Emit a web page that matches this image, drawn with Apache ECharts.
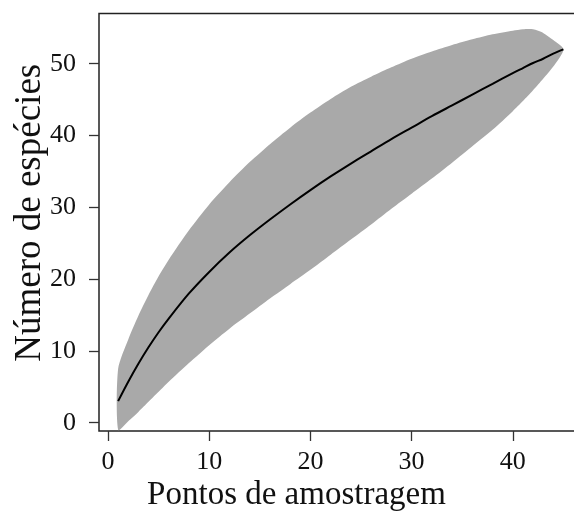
<!DOCTYPE html>
<html>
<head>
<meta charset="utf-8">
<script src="https://cdn.jsdelivr.net/npm/echarts@6/dist/echarts.min.js"></script>
<style>
  html, body { margin: 0; padding: 0; background: #fff; }
  #chart { width: 574px; height: 517px; }
</style>
</head>
<body>
<div id="chart"></div>
<script>
// pontos de amostragem
const pontos = [1, 2, 3, 4, 5, 6, 8, 10, 12, 14, 16, 18, 20, 22, 24, 26, 28, 30, 32, 34, 36, 38, 40, 41, 42, 43, 44, 45];
// curva media de especies
const mediaEspecies = [3.0, 5.7, 8.2, 10.5, 12.6, 14.5, 18.0, 21.0, 23.7, 26.1, 28.3, 30.4, 32.4, 34.3, 36.1, 37.8, 39.5, 41.1, 42.7, 44.2, 45.7, 47.2, 48.7, 49.4, 50.1, 50.7, 51.4, 52.0];
// intervalo de confianca
const limiteSuperior = [7.5, 11.6, 14.9, 17.8, 20.4, 22.7, 26.8, 30.4, 33.5, 36.3, 38.8, 41.1, 43.2, 45.1, 46.8, 48.2, 49.5, 50.7, 51.7, 52.6, 53.4, 54.1, 54.6, 54.8, 54.8, 54.3, 53.3, 52.0];
const limiteInferior = [-1.0, 0.2, 1.5, 2.9, 4.3, 5.7, 8.3, 10.8, 13.1, 15.2, 17.3, 19.3, 21.3, 23.4, 25.5, 27.6, 29.8, 31.9, 34.0, 36.2, 38.5, 40.8, 43.4, 44.8, 46.3, 47.9, 49.6, 52.0];
const ticksX = [0, 10, 20, 30, 40];
const ticksY = [0, 10, 20, 30, 40, 50];

const chart = echarts.init(document.getElementById('chart'));
const fonte = '"Liberation Serif", "DejaVu Serif", serif';

// faixa cinza: um poligono so, desenhado no primeiro item
function desenhaFaixa(params, api) {
  if (params.dataIndex !== 0) return;
  const sup = pontos.map((x, i) => api.coord([x, limiteSuperior[i]]));
  const inf = pontos.map((x, i) => api.coord([x, limiteInferior[i]])).reverse().slice(1);
  return {
    type: 'polygon',
    shape: { points: sup.concat(inf), smooth: 0.25 },
    style: { fill: '#a9a9a9', stroke: null }
  };
}

const option = {
  animation: false,
  grid: {
    left: 99,
    top: 13.5,
    right: -6,
    bottom: 86,
    outerBoundsMode: 'none',
    show: true,
    borderColor: '#222',
    borderWidth: 1.5,
    backgroundColor: 'transparent'
  },
  xAxis: {
    type: 'value',
    min: -0.89,
    max: 46.64,
    name: 'Pontos de amostragem',
    nameLocation: 'middle',
    nameGap: 48,
    nameMoveOverlap: false,
    nameTextStyle: { fontFamily: fonte, fontSize: 33, color: '#111', padding: [0, 86, 0, 0] },
    axisLine: { show: false, onZero: false },
    axisTick: { show: true, inside: false, length: 10, customValues: ticksX, lineStyle: { color: '#333', width: 1.3 } },
    axisLabel: { customValues: ticksX, margin: 18, fontFamily: fonte, fontSize: 26, color: '#111' },
    splitLine: { show: false }
  },
  yAxis: {
    type: 'value',
    min: -1.16,
    max: 57.0,
    name: 'Número de espécies',
    nameLocation: 'middle',
    nameGap: 50,
    nameMoveOverlap: false,
    nameTextStyle: { fontFamily: fonte, fontSize: 37, color: '#111', padding: [0, 0, 0, 19] },
    axisLine: { show: false, onZero: false },
    axisTick: { show: true, inside: false, length: 10, customValues: ticksY, lineStyle: { color: '#333', width: 1.3 } },
    axisLabel: { customValues: ticksY, margin: 23, fontFamily: fonte, fontSize: 26, color: '#111' },
    splitLine: { show: false }
  },
  series: [
    {
      type: 'custom',
      renderItem: desenhaFaixa,
      clip: true,
      data: pontos.map((x, i) => [x, limiteInferior[i], limiteSuperior[i]]),
      encode: { x: 0, y: [1, 2] }
    },
    {
      type: 'line',
      smooth: 0.3,
      symbol: 'none',
      lineStyle: { color: '#000', width: 2 },
      data: pontos.map((x, i) => [x, mediaEspecies[i]])
    }
  ]
};

chart.setOption(option);
</script>
</body>
</html>
